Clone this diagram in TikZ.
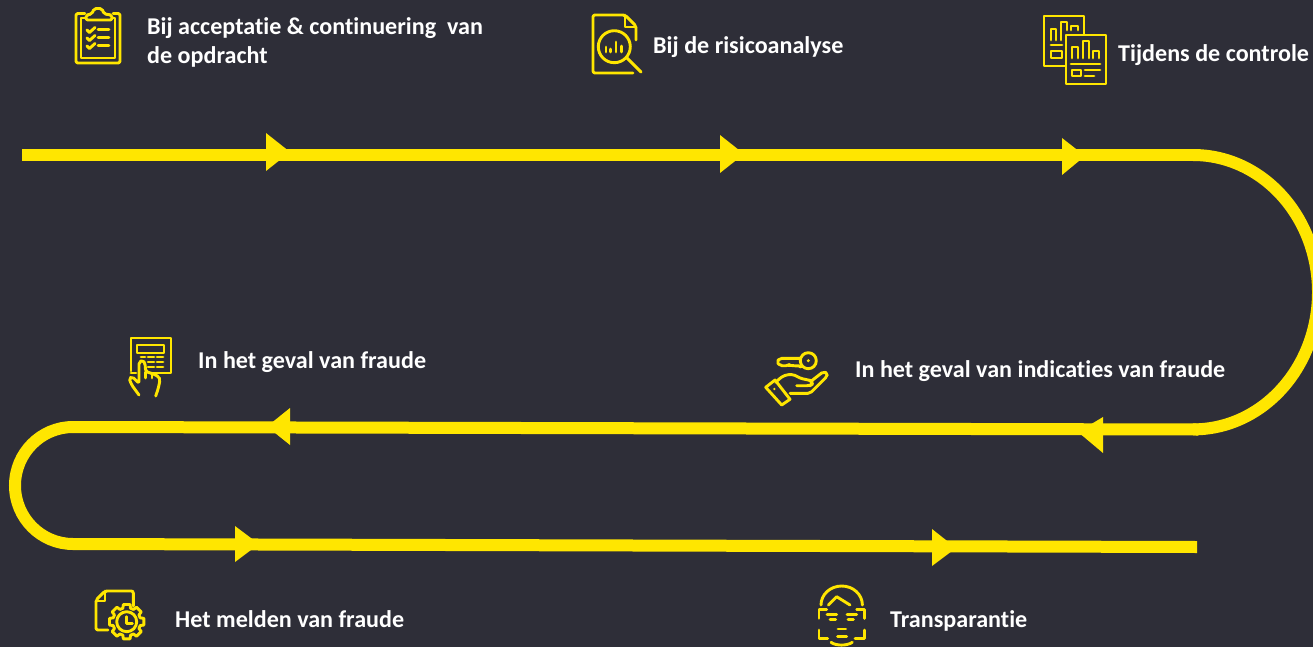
\documentclass[tikz,border=0pt]{standalone}
\usepackage{fontspec}
\setmainfont{Carlito}[Ligatures=NoCommon]
\definecolor{slidebg}{HTML}{2E2E38}
\definecolor{trackyellow}{HTML}{FFE600}
\tikzset{
  trackline/.style={draw=trackyellow,line width=12pt},
  trackhead/.style={fill=trackyellow},
  iconline/.style={draw=trackyellow,line width=2.9pt,line join=round,line cap=round},
  stepname/.style={anchor=base west,inner sep=0,text=white,align=left,font=\fontsize{24.1}{29}\selectfont\bfseries}
}
\begin{document}
\begin{tikzpicture}[x=1pt,y=-1pt]
\fill[slidebg] (0,0) rectangle (1313,647);
\useasboundingbox (0,0) rectangle (1313,647);
\clip (0,0) rectangle (1313,647);
% track
\coordinate (topstart) at (22,155);
\coordinate (topend) at (1193,155);
\coordinate (midstart) at (1198,429.5);
\coordinate (midend) at (73,427);
\coordinate (lowstart) at (73,544);
\coordinate (lowend) at (1197,547);
\draw[trackline] (topstart) -- (topend);
\draw[trackline] (topend) arc[start angle=-90,end angle=90,x radius=125,y radius=137.2];
\draw[trackline] (midstart) -- (midend);
\draw[trackline] (midend) arc[start angle=-90,end angle=-270,x radius=58,y radius=58.5];
\draw[trackline] (lowstart) -- (lowend);
% arrow heads
\fill[trackhead] (266,133) -- (290,152) -- (266,171) -- cycle;
\fill[trackhead] (720,135) -- (744,154) -- (720,173) -- cycle;
\fill[trackhead] (1062,138) -- (1085,156) -- (1062,175) -- cycle;
\fill[trackhead] (1103,417) -- (1078,432) -- (1103,453) -- cycle;
\fill[trackhead] (290,408) -- (267,426.5) -- (290,445) -- cycle;
\fill[trackhead] (235,526) -- (259,544) -- (235,562) -- cycle;
\fill[trackhead] (932,529) -- (956,548) -- (932,566) -- cycle;
% labels
\node[stepname] (acceptatie) at (147,63.5) {Bij acceptatie \& continuering\ \ van\\de opdracht};
\node[stepname] (risico) at (653,54) {Bij de risicoanalyse};
\node[stepname] (controle) at (1118,61.5) {Tijdens de controle};
\node[stepname] (fraude) at (198,368) {In het geval van fraude};
\node[stepname] (indicaties) at (855,377) {In het geval van indicaties van fraude};
\node[stepname] (melden) at (175,627) {Het melden van fraude};
\node[stepname] (transparantie) at (890,627) {Transparantie};
% clipboard
\draw[iconline] (85,13.5) -- (79,13.5) [rounded corners=2pt] -- (76,13.5) -- (76,63) -- (120,63) -- (120,13.5) [sharp corners] -- (113,13.5);
\draw[iconline] (85,18) -- (81,18) -- (81,58) -- (115,58) -- (115,18) -- (112,18);
\draw[iconline,rounded corners=2pt] (86,20) -- (86,15) -- (92,14) -- (94,8.5) -- (102,8.5) -- (104,14) -- (112,15) -- (112,20) -- cycle;
\draw[iconline] (87,30) -- (89.5,32.5) -- (95,27.5);
\draw[iconline] (87,38) -- (89.5,40.5) -- (95,35.5);
\draw[iconline] (87,46) -- (89.5,48.5) -- (95,43.5);
\draw[iconline] (98,29.5) -- (109,29.5);
\draw[iconline] (98,37.5) -- (109,37.5);
\draw[iconline] (98,45.7) -- (109,45.7);
% document with lens
\draw[iconline,rounded corners=2pt] (636,40) -- (636,26) -- (625,15) -- (593,15) -- (593,73) -- (633,73);
\draw[iconline] (625,15) -- (625,27) -- (636,27);
\draw[iconline] (614.3,46.7) circle[radius=16];
\draw[iconline] (627,58) -- (641,72);
\draw[iconline] (606,47) -- (606,52);
\draw[iconline] (610.7,49) -- (610.7,52);
\draw[iconline] (616,42) -- (616,52);
\draw[iconline] (621.3,46) -- (621.3,52);
% two reports
\draw[iconline] (1084,34) -- (1084,16) -- (1044,16) -- (1044,66) -- (1065,66);
\draw[iconline] (1066,35) rectangle (1106,84);
\draw[iconline] (1051,40) -- (1051,29) -- (1056,29) -- (1056,40);
\draw[iconline] (1061,40) -- (1061,22) -- (1067,22) -- (1067,30);
\draw[iconline] (1071,30) -- (1071,26) -- (1078,26) -- (1078,30);
\draw[iconline] (1051,45) -- (1062,45);
\draw[iconline] (1051,51) rectangle (1062,58);
\draw[iconline] (1072,58) -- (1072,47) -- (1078,47) -- (1078,58);
\draw[iconline] (1083,58) -- (1083,41) -- (1089,41) -- (1089,58);
\draw[iconline] (1093,58) -- (1093,51) -- (1099,51) -- (1099,58);
\draw[iconline] (1071,64) -- (1100,64);
\draw[iconline] (1072,70) rectangle (1081,76);
\draw[iconline] (1085,70) -- (1100,70);
\draw[iconline] (1085,76) -- (1094,76);
% keypad with hand
\draw[iconline] (131,371) -- (131,338) -- (171,338) -- (171,373) -- (151,373);
\draw[iconline] (131,373) -- (136,373);
\draw[iconline] (137,345) rectangle (164,353);
\draw[iconline] (148,357) -- (154,357);
\draw[iconline] (157,357) -- (163,357);
\draw[iconline] (141,357) -- (145,357);
\draw[iconline] (148,362) -- (154,362);
\draw[iconline] (157,362) -- (163,362);
\draw[iconline] (148,367) -- (154,367);
\draw[iconline] (157,367) -- (163,367);
\draw[iconline,rounded corners=2pt] (139,395) -- (131.7,385) -- (129,378.3) -- (132.3,376.7) -- (139,383.3) -- (139,362) -- (143,360) -- (145,363.3) -- (145.7,371.7) -- (151.7,373.3) -- (159,376.7) -- (160,380) -- (158.3,388.3) -- (155.7,396);
\draw[iconline] (145.7,372) -- (145.7,378);
\draw[iconline] (152,374) -- (152,378);
% key and hand
\draw[iconline] (808.3,360.7) circle[radius=8];
\fill[trackhead] (808.3,360.7) circle[radius=1.7];
\draw[iconline,rounded corners=2pt] (800.5,358.3) -- (780,358.3) -- (776.7,361.7) -- (780,365.7) -- (788,365.7) -- (790,364.3) -- (793.3,366.7) -- (796.7,365) -- (801,367);
\draw[iconline] (765.7,387.3) -- (775,380) -- (790,399.3) -- (781.7,405) -- cycle;
\fill[trackhead] (774.3,389) circle[radius=1.3];
\draw[iconline,rounded corners=3pt] (775.7,382.3) -- (781.7,376.7) -- (788.3,374.3) -- (795,375) -- (800,378.3) -- (808.3,380) -- (811.7,380.7) -- (812.3,384.3) -- (810,385.7) -- (796.7,385.7);
\draw[iconline,rounded corners=2pt] (811.7,380.7) -- (823.3,371.7) -- (827.7,373.3) -- (826.7,376.7) -- (810,393.3) -- (790,393.3);
% document with gear
\draw[iconline,rounded corners=2pt] (133.3,606) -- (133.3,591) -- (105,591) -- (96,600) -- (96,630) -- (108,630);
\draw[iconline] (105,591) -- (105,601) -- (96,601);
\begin{scope}[shift={(126.7,621.7)}]
\draw[iconline] (-11:17.5) \foreach \a in {0,45,...,315} {
  -- ({\a-11}:17.5) -- ({\a+11}:17.5) -- ({\a+16}:14) -- ({\a+29}:14)} -- cycle;
\draw[iconline] (0,0) circle[radius=10];
\draw[iconline] (0,-5) -- (0,1.6) -- (5.6,1.6);
\end{scope}
% face
\draw[iconline] (821,605) arc[start angle=180,end angle=360,x radius=20.7,y radius=19];
\draw[iconline] (828.3,605) -- (836.7,596.7) -- (850,605);
\draw[iconline] (826.7,609.3) -- (819,609.3) -- (819,618.3);
\draw[iconline] (856.7,609.3) -- (864.3,609.3) -- (864.3,618.3);
\draw[iconline] (819,630) -- (819,638.3) -- (827.7,638.3);
\draw[iconline] (864.3,630) -- (864.3,638.3) -- (855,638.3);
\draw[iconline] (827,614.3) -- (836.7,614.3);
\draw[iconline] (847,614.3) -- (856.7,614.3);
\draw[iconline] (830,619.3) -- (835.7,619.3);
\draw[iconline] (848,619.3) -- (853.3,619.3);
\draw[iconline] (838,629) -- (845.7,629);
\draw[iconline] (837.5,636.7) -- (846.7,636.7);
\draw[iconline] (831,642.3) .. controls (836,646) and (847,646) .. (852.3,642.3);
\end{tikzpicture}
\end{document}
